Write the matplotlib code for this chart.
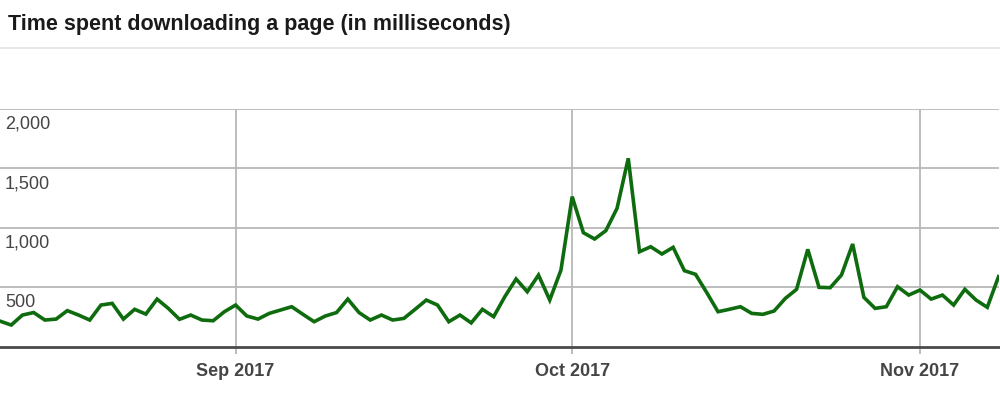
"""
Page download time chart (Search Console style)
Draws daily download time in ms, Aug 11 - Nov 8 2017, and saves out.png.
"""

import datetime as dt

import matplotlib
matplotlib.use("Agg")
import matplotlib.pyplot as plt
from matplotlib.lines import Line2D

# ── Data ───────────────────────────────────────────────────────
START_DATE = dt.date(2017, 8, 11)

DOWNLOAD_MS = [
    # Aug 11 - Aug 31
    215, 182, 266, 287, 224, 232, 303, 266, 224, 350,
    364, 232, 314, 274, 400, 322, 230, 266, 224, 218, 294,
    # Sep 1 - Sep 30
    350, 258, 232, 280, 308, 336, 272, 210, 258, 287,
    400, 287, 224, 266, 224, 238, 314, 392, 350, 210,
    266, 200, 314, 252, 421, 569, 462, 602, 392, 644,
    # Oct 1 - Oct 31
    1261, 958, 905, 975, 1163, 1583, 798, 840, 779, 835,
    639, 608, 454, 294, 314, 336, 280, 272, 300, 406,
    482, 818, 499, 496, 602, 863, 415, 322, 336, 504, 434,
    # Nov 1 - Nov 8
    476, 400, 434, 350, 482, 392, 331, 588,
]

DATES = [START_DATE + dt.timedelta(days=i) for i in range(len(DOWNLOAD_MS))]

Y_TICKS = [500, 1000, 1500, 2000]
Y_TICK_LABELS = ["500", "1,000", "1,500", "2,000"]
X_TICKS = [dt.date(2017, 9, 1), dt.date(2017, 10, 1), dt.date(2017, 11, 1)]
X_TICK_LABELS = ["Sep 2017", "Oct 2017", "Nov 2017"]

TITLE = "Time spent downloading a page (in milliseconds)"
# ───────────────────────────────────────────────────────────────

LINE_COLOR = "#0e6c0e"
GRID_COLOR = "#b8b8b8"
LABEL_COLOR = "#454545"
FONT = ["Liberation Sans", "DejaVu Sans"]


def main():
    fig = plt.figure(figsize=(10, 4), dpi=100)
    ax = fig.add_axes([0.0, 1 - 346.7 / 400, 0.9985, (346.7 - 108.7) / 400])

    ax.plot(DATES, DOWNLOAD_MS, color=LINE_COLOR, linewidth=2.6,
            solid_joinstyle="miter", zorder=3)

    ax.set_xlim(DATES[0], DATES[-1])
    ax.set_ylim(0, 2000)

    # grid
    ax.set_yticks(Y_TICKS)
    ax.set_xticks(X_TICKS)
    ax.grid(True, color=GRID_COLOR, linewidth=1.3)
    ax.set_axisbelow(True)
    ax.tick_params(axis="y", length=0, labelleft=False)
    ax.tick_params(axis="x", length=5, width=1.3, color=GRID_COLOR,
                   direction="out", pad=7)
    ax.set_xticklabels(X_TICK_LABELS, fontsize=13, fontweight="bold",
                       color=LABEL_COLOR, family=FONT)

    for side in ("top", "right", "left"):
        ax.spines[side].set_visible(False)
    ax.spines["bottom"].set_color("#4a4a4a")
    ax.spines["bottom"].set_linewidth(2.0)
    ax.spines["bottom"].set_zorder(4)

    # y labels sit inside the plot, just below their gridline
    for v, lab in zip(Y_TICKS, Y_TICK_LABELS):
        ax.annotate(lab, xy=(0, v), xycoords=ax.get_yaxis_transform(),
                    xytext=(5, -7), textcoords="offset pixels",
                    ha="left", va="top", fontsize=13, color=LABEL_COLOR,
                    family=FONT)

    # title + separator
    fig.text(8 / 1000, 1 - 30 / 400, TITLE, ha="left", va="baseline",
             fontsize=15.5, fontweight="bold", color="#1a1a1a", family=FONT)
    fig.add_artist(Line2D([0, 1], [1 - 47.5 / 400] * 2, color="#e4e4e4",
                          linewidth=1.2))

    fig.savefig("out.png", dpi=100)
    plt.close(fig)


if __name__ == "__main__":
    main()
